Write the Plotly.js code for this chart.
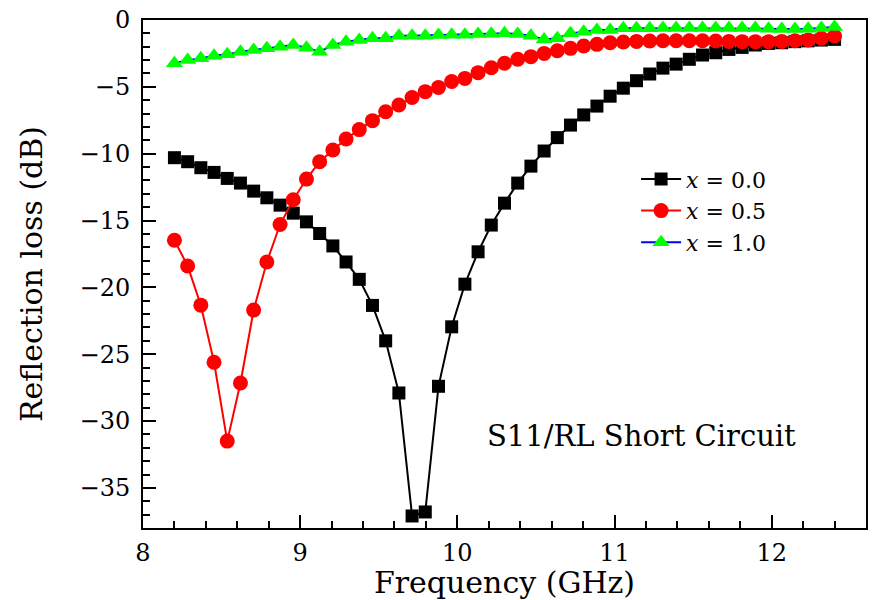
<!DOCTYPE html>
<html>
<head>
<meta charset="utf-8">
<script src="https://cdn.plot.ly/plotly-3.0.1.min.js"></script>
<style>html,body{margin:0;padding:0;background:#fff;}#chart{width:876px;height:600px;}</style>
</head>
<body>
<div id="chart"></div>
<script>
// Frequency points (GHz)
const freqStart = 8.2, freqStep = 0.084, nPoints = 51;
const frequency = Array.from({length: nPoints}, (_, i) => +(freqStart + freqStep * i).toFixed(3));

const seriesNames = ["<i>x</i> = 0.0", "<i>x</i> = 0.5", "<i>x</i> = 1.0"];

const rlX00 = [-10.3, -10.6, -11.05, -11.4, -11.85, -12.2, -12.8, -13.3, -13.85, -14.45,
  -15.1, -15.97, -16.9, -18.1, -19.4, -21.35, -24.0, -27.9, -37.1, -36.8,
  -27.4, -22.95, -19.76, -17.34, -15.34, -13.7, -12.2, -10.93, -9.8, -8.8,
  -7.86, -7.1, -6.44, -5.7, -5.1, -4.54, -4.04, -3.6, -3.3, -2.94,
  -2.62, -2.45, -2.2, -2.05, -1.87, -1.75, -1.7, -1.62, -1.56, -1.5, -1.45];

const rlX05 = [-16.47, -18.4, -21.33, -25.6, -31.5, -27.15, -21.7, -18.1, -15.3, -13.45,
  -11.9, -10.6, -9.73, -8.9, -8.2, -7.53, -6.86, -6.36, -5.8, -5.36,
  -5.04, -4.6, -4.37, -3.94, -3.57, -3.24, -2.94, -2.74, -2.5, -2.3,
  -2.12, -1.95, -1.82, -1.7, -1.65, -1.6, -1.57, -1.55, -1.55, -1.55,
  -1.55, -1.57, -1.6, -1.62, -1.62, -1.62, -1.6, -1.55, -1.5, -1.37, -1.2];

const rlX10 = [-3.24, -3.0, -2.87, -2.67, -2.57, -2.37, -2.25, -2.12, -2.0, -1.87,
  -2.07, -2.37, -1.87, -1.62, -1.5, -1.37, -1.37, -1.17, -1.17, -1.17,
  -1.12, -1.1, -1.1, -1.05, -1.02, -1.0, -1.05, -1.17, -1.45, -1.37,
  -1.0, -0.87, -0.75, -0.75, -0.62, -0.62, -0.62, -0.6, -0.6, -0.6,
  -0.6, -0.6, -0.6, -0.6, -0.6, -0.65, -0.68, -0.68, -0.65, -0.6, -0.52];

const annotationText = "S11/RL Short Circuit";

const serif = "DejaVu Serif, serif";

const traces = [
  {x: frequency, y: rlX00, name: seriesNames[0], type: "scatter", mode: "lines+markers",
   line: {color: "#000000", width: 2}, marker: {symbol: "square", size: 13, color: "#000000"}},
  {x: frequency, y: rlX05, name: seriesNames[1], type: "scatter", mode: "lines+markers",
   line: {color: "#ff0000", width: 2}, marker: {symbol: "circle", size: 15, color: "#ff0000"}},
  {x: frequency, y: rlX10, name: seriesNames[2], type: "scatter", mode: "lines+markers",
   line: {color: "#0000ff", width: 2}, marker: {symbol: "triangle-up", size: 15, color: "#00ff00"}}
];

const axisCommon = {
  showline: true, linecolor: "#000", linewidth: 2, mirror: true,
  ticks: "inside", ticklen: 13, tickwidth: 2, tickcolor: "#000",
  showgrid: false, zeroline: false,
  tickfont: {family: serif, size: 24, color: "#000"}
};

const layout = {
  width: 876, height: 600,
  margin: {l: 143, r: 10, t: 20, b: 72},
  paper_bgcolor: "#fff", plot_bgcolor: "#fff",
  showlegend: true,
  legend: {x: 0.682, y: 0.728, xanchor: "left", yanchor: "top", bgcolor: "rgba(0,0,0,0)",
    font: {family: serif, size: 22, color: "#000"}, tracegroupgap: 0, itemwidth: 40},
  xaxis: Object.assign({}, axisCommon, {
    range: [8, 12.6], dtick: 1, tick0: 8, ticklabelstandoff: 2,
    minor: {dtick: 0.2, ticks: "inside", ticklen: 7, tickwidth: 2, tickcolor: "#000"},
    title: {text: "Frequency (GHz)", font: {family: serif, size: 30, color: "#000"}, standoff: 0}
  }),
  yaxis: Object.assign({}, axisCommon, {
    range: [-38, 0], dtick: 5, tick0: 0, ticklabelstandoff: 6,
    minor: {dtick: 1, ticks: "inside", ticklen: 7, tickwidth: 2, tickcolor: "#000"},
    title: {text: "Reflection loss (dB)", font: {family: serif, size: 30, color: "#000"}, standoff: 28}
  }),
  annotations: [{x: 11.17, y: -31.1, xref: "x", yref: "y", text: annotationText, showarrow: false,
    font: {family: serif, size: 29, color: "#000"}}]
};

Plotly.newPlot("chart", traces, layout, {displayModeBar: false, staticPlot: true});
</script>
</body>
</html>
